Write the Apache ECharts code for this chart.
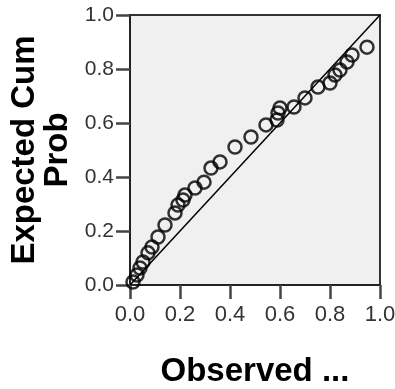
<!DOCTYPE html>
<html>
<head>
<meta charset="utf-8">
<script src="https://cdn.jsdelivr.net/npm/echarts@6/dist/echarts.min.js"></script>
<style>
  html, body { margin: 0; padding: 0; background: #fff; }
  #chart { width: 395px; height: 389px; }
</style>
</head>
<body>
<div id="chart"></div>
<script>
// observed cum prob (x) vs expected cum prob (y)
var observed = [0.012, 0.028, 0.04, 0.052, 0.072, 0.088, 0.112, 0.14, 0.18, 0.192, 0.212, 0.22,
  0.26, 0.296, 0.324, 0.36, 0.42, 0.484, 0.544, 0.588, 0.592, 0.6, 0.656, 0.70, 0.752,
  0.80, 0.82, 0.84, 0.868, 0.888, 0.948];
var expected = [0.011, 0.037, 0.063, 0.085, 0.119, 0.141, 0.178, 0.222, 0.267, 0.296, 0.315, 0.333,
  0.359, 0.381, 0.433, 0.456, 0.511, 0.548, 0.593, 0.611, 0.637, 0.656, 0.659, 0.693, 0.733,
  0.748, 0.778, 0.796, 0.826, 0.852, 0.881];
var refLine = [[0, 0], [1, 1]];
var tickLabels = ["0.0", "0.2", "0.4", "0.6", "0.8", "1.0"];

var chart = echarts.init(document.getElementById("chart"));

var axisCommon = {
  type: "value",
  min: 0,
  max: 1,
  interval: 0.2,
  nameLocation: "middle",
  axisLine: { show: true, lineStyle: { color: "#222", width: 2 } },
  axisTick: { show: true, length: 14, lineStyle: { color: "#444", width: 2.5 } },
  axisLabel: {
    fontFamily: "Liberation Sans",
    fontSize: 21,
    color: "#333",
    formatter: function (v) {
      return tickLabels[Math.round(v * 5)];
    }
  },
  splitLine: { show: false }
};

var option = {
  animation: false,
  grid: {
    left: 130,
    right: 15,
    top: 15,
    bottom: 104,
    outerBoundsMode: "none",
    containLabel: false,
    show: true,
    backgroundColor: "#f0f0f0",
    borderColor: "#333",
    borderWidth: 2
  },
  xAxis: Object.assign({}, axisCommon, {
    name: "Observed ...",
    nameGap: 70,
    nameTextStyle: {
      fontFamily: "Liberation Sans",
      fontWeight: "bold",
      fontSize: 33,
      color: "#000"
    },
    axisLabel: Object.assign({}, axisCommon.axisLabel, { margin: 19, fontSize: 22 })
  }),
  yAxis: Object.assign({}, axisCommon, {
    name: "Expected Cum\nProb",
    nameGap: 56,
    nameRotate: 90,
    nameTextStyle: {
      fontFamily: "Liberation Sans",
      fontWeight: "bold",
      fontSize: 33,
      lineHeight: 33,
      color: "#000"
    },
    axisLabel: Object.assign({}, axisCommon.axisLabel, { margin: 16 })
  }),
  series: [
    {
      type: "line",
      data: refLine,
      symbol: "none",
      silent: true,
      lineStyle: { color: "#000", width: 1.5 },
      z: 1
    },
    {
      type: "scatter",
      data: observed.map(function (x, i) { return [x, expected[i]]; }),
      symbol: "circle",
      symbolSize: 13,
      itemStyle: {
        color: "rgba(0,0,0,0)",
        borderColor: "#000",
        borderWidth: 2.5
      },
      z: 2
    }
  ]
};

chart.setOption(option);
</script>
</body>
</html>
